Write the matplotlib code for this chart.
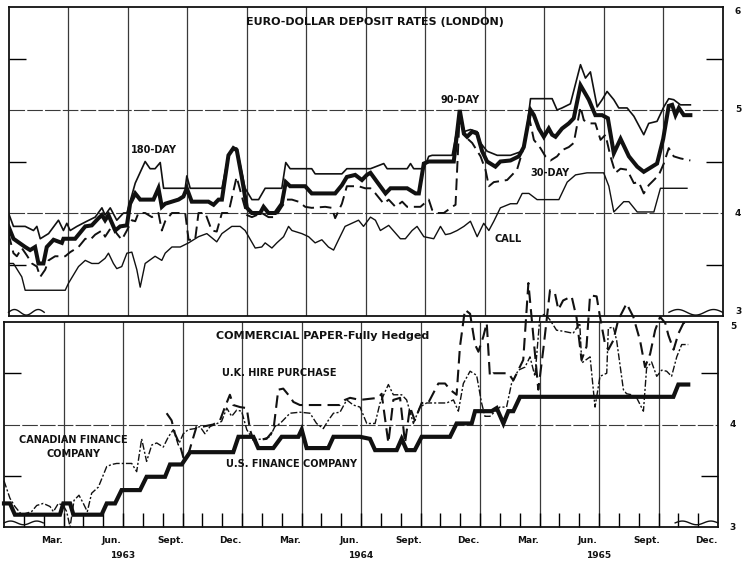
import numpy as np
import matplotlib
matplotlib.use('Agg')
import matplotlib.pyplot as plt
import matplotlib.transforms as mtransforms

# x values are months counted from 1 Jan 1963, y values are per cent per annum

# Euro-dollar deposit rates (London)
d180_m = [0, 0.25, 0.84, 1.26, 1.43, 1.60, 2.02, 2.52, 2.77, 2.94, 3.11, 3.45, 3.95, 4.37, 4.71, 4.87,
          5.13, 5.46, 5.80, 5.97, 6.39, 6.89, 7.14, 7.39, 7.65, 7.82, 8.91, 8.99, 9.16, 10.76, 11.09,
          11.34, 11.51, 11.93, 12.27, 12.61, 12.94, 13.78, 13.98, 14.20, 15.29, 15.46, 16.81, 17.06,
          18.25, 18.92, 19.09, 20.10, 20.27, 20.43, 20.94, 21.19, 21.36, 22.37, 22.75, 22.96, 23.29,
          23.63, 23.80, 24.13, 24.64, 25.31, 25.90, 26.07, 26.32, 27.41, 27.66, 27.91, 28.33, 28.84,
          29.09, 29.34, 29.68, 29.93, 30.18, 30.52, 30.77, 31.19, 31.53, 32.03, 32.28, 32.70, 33.04,
          33.29, 33.54, 33.88, 34.38]
d180_v = [4.00, 3.87, 3.87, 3.83, 3.87, 3.75, 3.80, 3.93, 3.83, 3.90, 3.83, 3.87, 3.92, 3.96, 4.05, 3.98,
          4.05, 3.93, 4.00, 4.00, 4.29, 4.50, 4.43, 4.43, 4.49, 4.24, 4.24, 4.36, 4.24, 4.24, 4.56,
          4.63, 4.63, 4.24, 4.13, 4.13, 4.24, 4.24, 4.49, 4.43, 4.43, 4.38, 4.38, 4.43,
          4.43, 4.48, 4.43, 4.43, 4.48, 4.43, 4.43, 4.55, 4.56, 4.56, 4.95, 4.79, 4.81,
          4.79, 4.68, 4.60, 4.56, 4.56, 4.60, 4.71, 5.11, 5.11, 5.00, 5.02, 5.06, 5.44,
          5.31, 5.37, 5.03, 5.10, 5.18, 5.10, 5.02, 5.02, 4.94, 4.76, 4.87, 4.89, 5.03,
          5.11, 5.10, 5.05, 5.05]

d90_m = [0, 0.25, 0.84, 1.09, 1.34, 1.51, 1.76, 1.93, 2.27, 2.69, 2.77, 3.36, 3.87, 4.20, 4.54, 4.71,
         4.87, 5.04, 5.38, 5.63, 5.97, 6.13, 6.39, 6.64, 7.31, 7.56, 7.73, 7.90, 8.57, 8.82, 8.99,
         9.24, 10.08, 10.34, 10.59, 10.76, 11.09, 11.34, 11.51, 11.76, 12.02, 12.27, 12.69, 12.86,
         13.11, 13.45, 13.78, 13.98, 14.20, 14.96, 15.29, 16.47, 16.81, 17.06, 17.48, 17.82, 18.07,
         18.25, 18.59, 19.01, 19.26, 20.10, 20.52, 20.69, 20.94, 21.19, 22.45, 22.75, 22.96, 23.12,
         23.38, 23.63, 23.88, 24.13, 24.55, 24.80, 25.31, 25.73, 25.98, 26.32, 26.49, 26.74, 26.99,
         27.24, 27.41, 27.58, 27.91, 28.25, 28.50, 28.84, 29.26, 29.59, 29.93, 30.22, 30.52, 30.86,
         31.28, 31.70, 32.03, 32.45, 32.70, 33.01, 33.29, 33.46, 33.63, 33.80, 34.05, 34.38]
d90_v = [3.87, 3.75, 3.67, 3.64, 3.67, 3.51, 3.51, 3.67, 3.74, 3.71, 3.75, 3.75, 3.87, 3.88, 3.95, 3.98,
         3.93, 3.98, 3.83, 3.87, 3.88, 4.09, 4.19, 4.13, 4.13, 4.24, 4.06, 4.09, 4.13, 4.16, 4.24,
         4.11, 4.11, 4.08, 4.13, 4.13, 4.56, 4.63, 4.61, 4.35, 4.05, 4.00, 4.00, 4.06,
         4.00, 4.00, 4.09, 4.30, 4.26, 4.26, 4.19, 4.19, 4.27, 4.35, 4.37, 4.32, 4.37,
         4.39, 4.30, 4.19, 4.24, 4.24, 4.19, 4.19, 4.48, 4.50, 4.50, 5.00, 4.77, 4.74,
         4.79, 4.77, 4.60, 4.50, 4.45, 4.50, 4.51, 4.55, 4.64, 5.00, 4.95, 4.82, 4.74,
         4.82, 4.76, 4.74, 4.82, 4.87, 4.92, 5.24, 5.10, 4.95, 4.95, 4.92, 4.58, 4.72,
         4.55, 4.45, 4.40, 4.45, 4.48, 4.72, 5.04, 5.05, 4.95, 5.02, 4.95, 4.95]

d30_m = [0, 0.25, 0.42, 0.67, 0.92, 1.18, 1.43, 1.60, 1.85, 2.02, 2.35, 2.86, 3.11, 3.53, 3.87, 4.12,
         4.37, 4.71, 4.87, 5.21, 5.46, 5.71, 5.97, 6.22, 6.39, 6.55, 6.89, 7.23, 7.56, 7.73, 7.90,
         8.24, 8.91, 9.08, 9.41, 9.58, 9.92, 10.25, 10.50, 10.76, 11.09, 11.50, 12.02, 12.27, 12.77,
         13.11, 13.45, 13.78, 14.03, 14.29, 14.62, 14.96, 15.29, 15.97, 16.30, 16.47, 16.81, 17.06,
         17.65, 17.98, 18.25, 18.50, 18.92, 19.17, 19.51, 19.85, 20.10, 20.77, 21.19, 21.36, 21.61,
         21.95, 22.37, 22.54, 22.75, 23.04, 23.38, 23.80, 24.05, 24.22, 24.47, 25.14, 25.64, 25.98,
         26.24, 26.49, 26.82, 27.07, 27.33, 27.66, 27.91, 28.25, 28.50, 28.84, 29.01, 29.34, 29.59,
         29.85, 30.10, 30.35, 30.60, 30.86, 31.19, 31.53, 31.78, 32.03, 32.28, 32.54, 32.79, 33.04,
         33.29, 33.54, 33.88, 34.38]
d30_v = [3.80, 3.61, 3.58, 3.66, 3.59, 3.51, 3.48, 3.38, 3.45, 3.54, 3.58, 3.58, 3.62, 3.67, 3.75, 3.74,
         3.79, 3.83, 3.77, 3.87, 3.80, 3.74, 3.83, 3.93, 3.92, 4.00, 4.00, 3.96, 4.00, 3.83, 3.92,
         4.00, 4.00, 3.74, 3.74, 4.00, 4.00, 3.83, 3.82, 4.00, 4.00, 4.35, 3.98, 3.96, 4.00,
         3.96, 3.96, 4.06, 4.13, 4.13, 4.11, 4.06, 4.05, 4.06, 4.05, 3.95, 4.09, 4.26,
         4.26, 4.24, 4.24, 4.19, 4.09, 4.13, 4.06, 4.11, 4.06, 4.06, 4.13, 4.03, 4.00,
         4.00, 4.06, 4.08, 4.97, 4.74, 4.68, 4.55, 4.42, 4.26, 4.30, 4.32, 4.42, 4.64,
         4.94, 4.71, 4.63, 4.55, 4.51, 4.55, 4.61, 4.64, 4.68, 5.03, 4.90, 4.87, 4.87,
         4.71, 4.76, 4.55, 4.39, 4.43, 4.42, 4.29, 4.30, 4.19, 4.27, 4.32, 4.37, 4.48,
         4.63, 4.55, 4.53, 4.51]

call_m = [0, 0.25, 0.67, 0.84, 2.86, 3.03, 3.53, 3.87, 4.20, 4.54, 4.87, 5.04, 5.29, 5.46, 5.71, 5.97,
          6.22, 6.47, 6.64, 6.89, 7.39, 7.73, 7.90, 8.24, 8.66, 9.08, 9.58, 10.00, 10.50, 10.76, 11.26,
          11.68, 11.93, 12.44, 12.77, 12.94, 13.28, 13.53, 13.87, 14.12, 14.29, 14.79, 15.13, 15.46,
          15.80, 16.13, 16.39, 16.64, 16.97, 17.31, 17.65, 17.90, 18.25, 18.50, 18.75, 19.17, 19.76,
          20.01, 20.35, 20.60, 20.94, 21.44, 21.78, 22.03, 22.28, 22.62, 22.96, 23.29, 23.63, 23.96,
          24.22, 24.47, 24.80, 25.31, 25.64, 25.90, 26.24, 26.65, 27.75, 28.17, 28.59, 29.17, 30.01,
          30.27, 30.52, 31.02, 31.28, 31.70, 32.54, 32.87, 33.38, 34.21]
call_v = [3.51, 3.51, 3.38, 3.25, 3.25, 3.32, 3.48, 3.54, 3.51, 3.51, 3.56, 3.61, 3.51, 3.46, 3.48, 3.61,
          3.62, 3.45, 3.28, 3.51, 3.58, 3.54, 3.61, 3.67, 3.67, 3.71, 3.77, 3.80, 3.72, 3.80, 3.87,
          3.87, 3.83, 3.66, 3.67, 3.71, 3.66, 3.71, 3.77, 3.87, 3.83, 3.80, 3.77, 3.71,
          3.74, 3.67, 3.64, 3.74, 3.87, 3.90, 3.93, 3.87, 3.96, 3.93, 3.83, 3.88, 3.75,
          3.75, 3.83, 3.87, 3.77, 3.75, 3.87, 3.79, 3.80, 3.83, 3.87, 3.92, 3.77, 3.90,
          3.83, 3.92, 4.05, 4.09, 4.09, 4.19, 4.19, 4.13, 4.13, 4.30, 4.37, 4.39, 4.39,
          4.26, 4.01, 4.11, 4.11, 4.01, 4.01, 4.24, 4.24, 4.24]

# Commercial paper, fully hedged
usf_m = [0, 0.30, 0.55, 2.82, 2.99, 3.33, 3.50, 4.92, 5.18, 5.60, 5.93, 6.86, 7.19, 8.12, 8.37, 8.96,
         9.38, 11.56, 11.82, 12.57, 12.82, 13.58, 14.00, 14.84, 15.01, 15.26, 16.35, 16.61, 17.95,
         18.45, 18.71, 19.80, 20.05, 20.30, 20.71, 21.06, 22.49, 22.82, 23.58, 23.75, 24.59, 24.84,
         25.18, 25.43, 25.68, 26.02, 33.75, 34.00, 34.50]
usf_v = [3.23, 3.23, 3.12, 3.12, 3.23, 3.23, 3.12, 3.12, 3.23, 3.23, 3.36, 3.36, 3.49, 3.49, 3.61, 3.61,
         3.73, 3.73, 3.88, 3.88, 3.77, 3.77, 3.88, 3.88, 3.95, 3.77, 3.77, 3.88, 3.88,
         3.86, 3.75, 3.75, 3.86, 3.75, 3.75, 3.88, 3.88, 4.01, 4.01, 4.13, 4.13, 4.16,
         4.01, 4.13, 4.13, 4.27, 4.27, 4.39, 4.39]

ukhp_m = [8.20, 8.45, 8.62, 8.87, 9.04, 9.21, 9.46, 9.71, 10.05, 10.55, 10.89, 11.14, 11.39, 11.56, 11.90,
          12.24, 12.40, 12.57, 12.82, 13.24, 13.58, 13.83, 14.08, 14.42, 14.59, 14.92, 15.76, 16.94,
          17.19, 17.45, 17.95, 18.87, 19.04, 19.38, 19.63, 19.97, 20.22, 20.47, 20.71, 21.06, 21.39,
          21.90, 22.24, 22.49, 22.82, 22.99, 23.24, 23.50, 23.75, 23.92, 24.17, 24.34, 24.50, 24.67,
          25.43, 25.68, 25.93, 26.18, 26.44, 26.69, 26.94, 27.19, 27.53, 27.78, 27.95, 28.19, 28.62,
          28.87, 29.12, 29.37, 29.55, 29.88, 30.05, 30.30, 30.47, 30.72, 30.97, 31.39, 31.73, 32.07,
          32.32, 32.58, 32.83, 33.08, 33.34, 33.50, 33.76, 34.01, 34.26, 34.50]
ukhp_v = [4.11, 4.04, 3.91, 3.80, 3.68, 3.65, 3.82, 3.98, 3.98, 4.00, 4.04, 4.17, 4.29, 4.19, 4.17,
          4.16, 3.95, 3.85, 3.85, 3.86, 3.94, 4.34, 4.35, 4.27, 4.22, 4.19, 4.19, 4.19,
          4.24, 4.26, 4.24, 4.26, 4.30, 3.82, 4.24, 4.26, 3.82, 4.17, 4.04, 4.21, 4.21,
          4.40, 4.40, 4.34, 4.29, 4.76, 5.12, 5.08, 4.78, 4.71, 4.86, 4.99, 4.47, 4.50,
          4.50, 4.43, 4.53, 4.63, 5.38, 4.86, 4.34, 4.73, 5.31, 5.28, 5.12, 5.21, 5.25,
          5.04, 4.63, 4.76, 5.26, 5.25, 5.05, 4.79, 4.73, 4.82, 5.02, 5.18, 5.05, 4.82,
          4.56, 4.69, 4.92, 5.05, 4.99, 4.87, 4.73, 4.89, 4.99, 5.00]

canf_m = [0, 0.30, 0.55, 0.89, 1.39, 1.65, 1.98, 2.32, 2.49, 2.74, 2.99, 3.16, 3.33, 3.53, 3.78, 4.00,
          4.20, 4.42, 4.76, 5.18, 5.43, 5.68, 6.44, 6.69, 6.94, 7.19, 7.45, 7.70, 8.03, 8.29, 8.54,
          8.79, 9.04, 9.29, 9.63, 9.88, 10.13, 10.39, 10.64, 10.97, 11.23, 11.48, 11.73, 11.98, 12.24,
          12.57, 13.08, 13.41, 13.66, 13.92, 14.42, 14.92, 15.43, 15.76, 16.10, 16.35, 16.61, 16.94,
          17.28, 17.61, 17.95, 18.29, 18.71, 18.96, 19.38, 19.63, 20.05, 20.30, 20.64, 20.97, 21.31,
          22.32, 22.66, 22.91, 23.16, 23.50, 23.83, 24.08, 24.25, 24.50, 25.00, 25.34, 25.59, 25.93,
          26.27, 26.52, 26.77, 27.02, 27.28, 27.53, 27.86, 28.19, 28.70, 29.03, 29.13, 29.55, 29.80,
          30.05, 30.39, 30.47, 30.72, 30.89, 31.23, 31.39, 31.65, 31.90, 32.24, 32.40, 32.65, 32.91,
          33.16, 33.41, 33.66, 33.92, 34.17, 34.50]
canf_v = [3.45, 3.28, 3.20, 3.12, 3.15, 3.21, 3.23, 3.20, 3.15, 3.23, 3.21, 3.15, 3.00, 3.26, 3.31, 3.23,
          3.15, 3.33, 3.39, 3.59, 3.61, 3.62, 3.62, 3.54, 3.86, 3.64, 3.80, 3.82, 3.78, 3.88, 3.95,
          3.80, 3.91, 3.95, 3.96, 3.98, 3.91, 3.98, 4.00, 4.03, 4.16, 4.08, 4.14, 4.13, 3.95,
          3.85, 3.86, 3.88, 3.98, 4.01, 4.11, 4.12, 4.11, 4.01, 3.96, 4.04, 4.11, 4.12,
          4.24, 4.19, 4.17, 4.01, 4.01, 4.21, 4.39, 4.29, 4.29, 4.24, 4.01, 4.17, 4.21,
          4.21, 4.24, 4.13, 4.40, 4.52, 4.48, 4.21, 4.08, 4.08, 4.17, 4.17, 4.40, 4.53,
          4.56, 4.66, 4.47, 5.05, 5.08, 5.02, 4.92, 4.91, 4.89, 4.99, 4.60, 4.66, 4.17,
          4.47, 4.50, 4.94, 4.95, 4.82, 4.34, 4.30, 4.29, 4.26, 4.13, 4.55, 4.61, 4.47,
          4.53, 4.52, 4.47, 4.66, 4.78, 4.78]

quarter_months = ['Mar.', 'Jun.', 'Sept.', 'Dec.']
years = ['1963', '1964', '1965']

W, H = 744, 563
fig = plt.figure(figsize=(W / 100, H / 100), dpi=100)
fig.patch.set_facecolor('white')

# two stacked panels (pixel boxes of the scan)
ax1 = fig.add_axes([8.5 / W, 1 - 316 / H, 714 / W, 309 / H])
ax2 = fig.add_axes([4 / W, 1 - 527 / H, 714 / W, 205 / H])

ink = '#111111'
grid = '#3a3a3a'

for ax, lo, hi in ((ax1, 3, 6), (ax2, 3, 5)):
    ax.set_xlim(0, 36)
    ax.set_ylim(lo, hi)
    for q in range(3, 36, 3):
        ax.axvline(q, color=grid, lw=0.9, zorder=1)
    for g in range(lo + 1, hi):
        ax.axhline(g, color=grid, lw=0.8, dashes=(14, 2), zorder=1)
    ax.set_yticks([])
    ax.set_yticks(np.arange(lo + 0.5, hi, 1.0), minor=True)
    ax.tick_params(axis='y', which='minor', direction='in', length=12, width=1,
                   left=True, right=True, labelleft=False)
    for s in ax.spines.values():
        s.set_linewidth(1.3)
        s.set_color(ink)

ax1.set_xticks([])
ax2.set_xticks(np.arange(3, 36, 3))
ax2.set_xticks(np.arange(1, 36, 1), minor=True)
ax2.tick_params(axis='x', which='both', direction='in', length=10, width=1,
                labelbottom=False)

# euro-dollar lines
ax1.plot(d180_m, d180_v, color=ink, lw=1.2, zorder=3)
ax1.plot(d90_m, d90_v, color=ink, lw=2.9, zorder=4, solid_joinstyle='miter')
ax1.plot(d30_m, d30_v, color=ink, lw=1.4, dashes=(6, 3), zorder=3)
ax1.plot(call_m, call_v, color=ink, lw=1.0, zorder=3)

# commercial paper lines (they run past the panel frame, as in the original)
ax2.plot(usf_m, usf_v, color=ink, lw=3.0, zorder=4, clip_on=False, solid_joinstyle='miter')
ax2.plot(ukhp_m, ukhp_v, color=ink, lw=1.5, dashes=(6, 3), zorder=3, clip_on=False)
ax2.plot(canf_m, canf_v, color=ink, lw=1.0, dashes=(5, 1.5, 1.5, 1.5), zorder=3, clip_on=False)

bold = dict(fontweight='bold', color=ink, family='DejaVu Sans')
ax1.text(18.48, 5.85, 'EURO-DOLLAR DEPOSIT RATES (LONDON)', ha='center', va='center', fontsize=8, **bold)
ax1.text(7.34, 4.61, '180-DAY', ha='center', va='center', fontsize=7, **bold)
ax1.text(22.77, 5.10, '90-DAY', ha='center', va='center', fontsize=7, **bold)
ax1.text(27.3, 4.39, '30-DAY', ha='center', va='center', fontsize=7, **bold)
ax1.text(25.2, 3.75, 'CALL', ha='center', va='center', fontsize=7, **bold)

ax2.text(16.09, 4.86, 'COMMERCIAL PAPER-Fully Hedged', ha='center', va='center', fontsize=8, **bold)
ax2.text(13.87, 4.50, 'U.K. HIRE PURCHASE', ha='center', va='center', fontsize=7, **bold)
ax2.text(3.48, 3.78, 'CANADIAN FINANCE\nCOMPANY', ha='center', va='center', fontsize=7,
         linespacing=1.5, **bold)
ax2.text(14.5, 3.61, 'U.S. FINANCE COMPANY', ha='center', va='center', fontsize=7, **bold)

# right-hand scale figures
tr1 = mtransforms.blended_transform_factory(fig.transFigure, ax1.transData)
tr2 = mtransforms.blended_transform_factory(fig.transFigure, ax2.transData)
for v, va in ((6, 'top'), (5, 'center'), (4, 'center'), (3, 'bottom')):
    ax1.text(738 / W, v, str(v), transform=tr1, ha='center', va=va, fontsize=6.5, **bold)
for v, va in ((5, 'top'), (4, 'center'), (3, 'center')):
    ax2.text(733 / W, v, str(v), transform=tr2, ha='center', va=va, fontsize=6.5, **bold)

# month and year labels under the lower panel
trx = mtransforms.blended_transform_factory(ax2.transData, ax2.transAxes)
for yi, yr in enumerate(years):
    for qi, name in enumerate(quarter_months):
        ax2.text(yi * 12 + qi * 3 + 2.4, -0.068, name, transform=trx, ha='center', va='center',
                 fontsize=6.5, **bold)
    ax2.text(yi * 12 + 6, -0.137, yr, transform=trx, ha='center', va='center', fontsize=6.5, **bold)

# scale-break squiggles
def squiggle(ax, x0, x1, y):
    t = np.linspace(0, 1, 60)
    ax.plot(x0 + (x1 - x0) * t, y + 0.009 * np.sin(t * 3 * np.pi), transform=ax.transAxes,
            color=ink, lw=1.0, clip_on=False, zorder=5)

squiggle(ax1, 0.0, 0.05, 0.012)
squiggle(ax1, 0.925, 1.0, 0.012)
squiggle(ax2, 0.0, 0.055, 0.02)
squiggle(ax2, 0.94, 1.0, 0.02)

fig.savefig('out.png', dpi=100, facecolor='white')
